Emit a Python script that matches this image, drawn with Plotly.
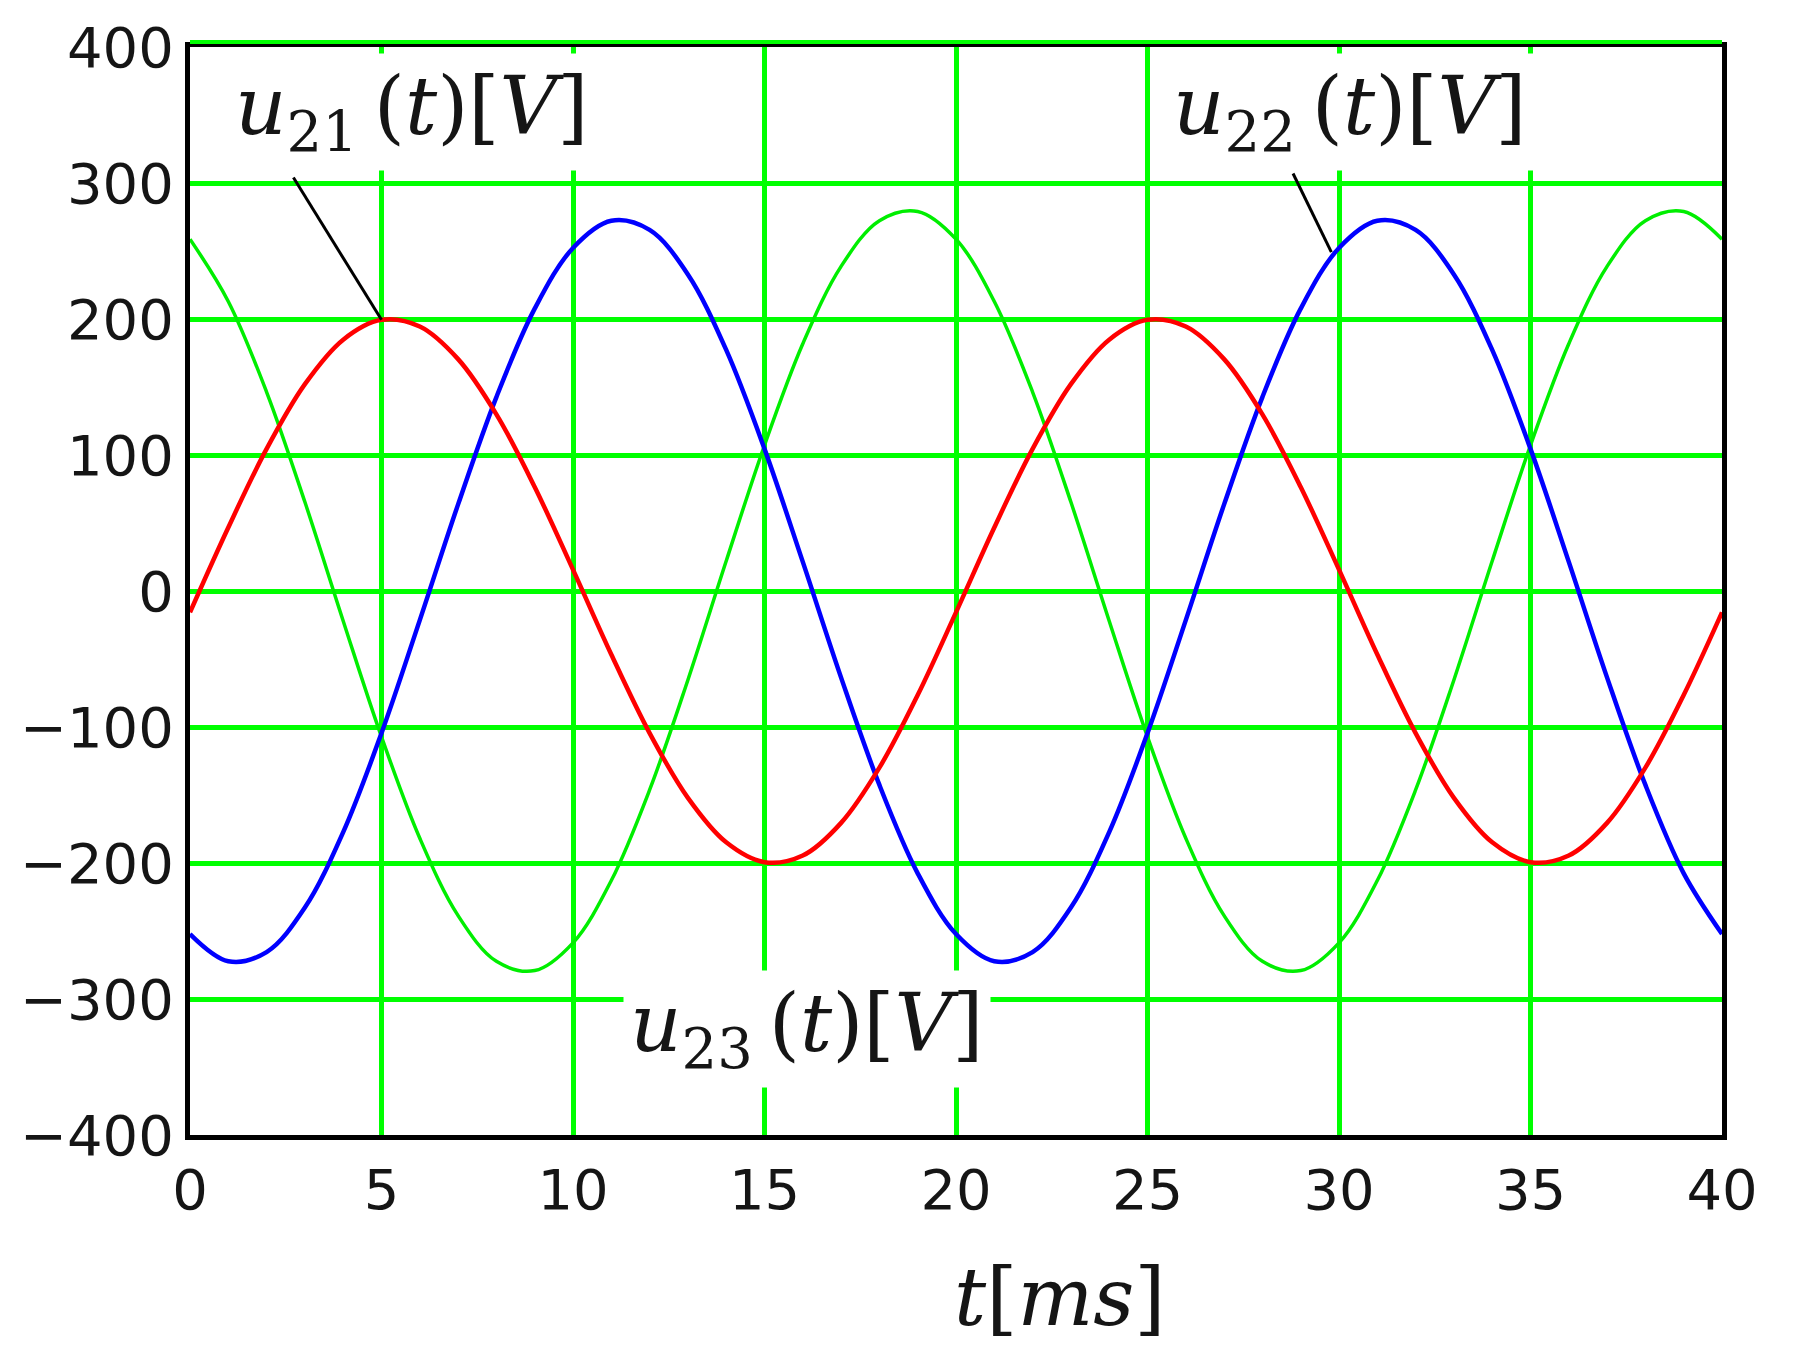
import plotly.graph_objects as go

# time axis [ms], one sample per ms
t_ms = list(range(0, 41))

# u21(t) [V] - red
u21 = [-15.7, 46.7, 104.5, 152.1, 184.8, 199.4, 194.5, 170.5, 129.9, 76.5,
       15.7, -46.7, -104.5, -152.1, -184.8, -199.4, -194.5, -170.5, -129.9, -76.5,
       -15.7, 46.7, 104.5, 152.1, 184.8, 199.4, 194.5, 170.5, 129.9, 76.5,
       15.7, -46.7, -104.5, -152.1, -184.8, -199.4, -194.5, -170.5, -129.9, -76.5,
       -15.7]

# u22(t) [V] - blue
u22 = [-252.2, -272.2, -265.5, -232.8, -177.3, -104.5, -21.4, 63.7, 142.6, 207.6,
       252.2, 272.2, 265.5, 232.8, 177.3, 104.5, 21.4, -63.7, -142.6, -207.6,
       -252.2, -272.2, -265.5, -232.8, -177.3, -104.5, -21.4, 63.7, 142.6, 207.6,
       252.2, 272.2, 265.5, 232.8, 177.3, 104.5, 21.4, -63.7, -142.6, -207.6,
       -252.2]

# u23(t) [V] - green
u23 = [258.7, 212.9, 146.3, 65.4, -22.0, -107.2, -181.8, -238.7, -272.3, -279.1,
       -258.7, -212.9, -146.3, -65.4, 22.0, 107.2, 181.8, 238.7, 272.3, 279.1,
       258.7, 212.9, 146.3, 65.4, -22.0, -107.2, -181.8, -238.7, -272.3, -279.1,
       -258.7, -212.9, -146.3, -65.4, 22.0, 107.2, 181.8, 238.7, 272.3, 279.1,
       258.7]

x_ticks = [0, 5, 10, 15, 20, 25, 30, 35, 40]
y_ticks = [-400, -300, -200, -100, 0, 100, 200, 300, 400]

W, H = 1800, 1360
ML, MR, MT, MB = 182, 86, 39, 233

fig = go.Figure()

for y, c, w in [(u23, "#00ee00", 3.5), (u22, "#0000ff", 4.5), (u21, "#ff0000", 4.5)]:
    fig.add_trace(go.Scatter(
        x=t_ms,
        y=y,
        mode='lines',
        line=dict(width=w, color=c, shape='spline', smoothing=1.0),
        showlegend=False,
    ))

label_font = dict(family="DejaVu Serif", size=80, color="#151515")
thin = "\u2009"

# curve labels with white boxes
labels = [
    ("21", 5.8, 352),
    ("22", 30.3, 352),
    ("23", 16.1, -322),
]
for sub, lx, ly in labels:
    fig.add_annotation(
        x=lx, y=ly, xref="x", yref="y",
        text=f"<i>u</i><sub>{sub}</sub>{thin}(<i>t</i>)[<i>V</i>]",
        showarrow=False,
        font=label_font,
        bgcolor="white",
        borderpad=6,
    )

# leader lines from label to curve
leaders = [((2.7, 304), (5, u21[5])), ((28.8, 307), (29.8, u22[30] - 3))]
for (x0, y0), (x1, y1) in leaders:
    fig.add_shape(
        type="line", xref="x", yref="y",
        x0=x0, y0=y0, x1=x1, y1=y1,
        line=dict(color="black", width=3),
    )

# green edge just above the top frame, like the original
fig.add_shape(
    type="line", xref="paper", yref="paper",
    ysizemode="pixel", yanchor=1,
    x0=0, x1=1, y0=5, y1=5,
    line=dict(color="#00ff00", width=4),
)

# axis title as annotation (sits right of centre in the original)
fig.add_annotation(
    x=0.568, y=0, xref="paper", yref="paper",
    yanchor="middle",
    yshift=-162,
    text="<i>t</i>[<i>ms</i>]",
    showarrow=False,
    font=dict(family="DejaVu Serif", size=80, color="#151515"),
)

fig.update_layout(
    width=W,
    height=H,
    margin=dict(l=ML, r=MR, t=MT, b=MB, autoexpand=False),
    plot_bgcolor="white",
    paper_bgcolor="white",
)

tick_font = dict(family="DejaVu Sans", size=56, color="#151515")

fig.update_xaxes(
    range=[0, 40],
    tickvals=x_ticks,
    showgrid=True,
    gridcolor="#00ff00",
    gridwidth=5,
    zeroline=False,
    showline=True,
    linewidth=5,
    linecolor="black",
    mirror=True,
    ticks="",
    tickfont=tick_font,
    ticklabelstandoff=2,
    automargin=False,
)

fig.update_yaxes(
    range=[-400, 400],
    tickvals=y_ticks,
    showgrid=True,
    gridcolor="#00ff00",
    gridwidth=5,
    zeroline=False,
    showline=True,
    linewidth=5,
    linecolor="black",
    mirror=True,
    ticks="",
    tickfont=tick_font,
    ticklabelstandoff=0,
    automargin=False,
)

fig.write_html("out.html")
